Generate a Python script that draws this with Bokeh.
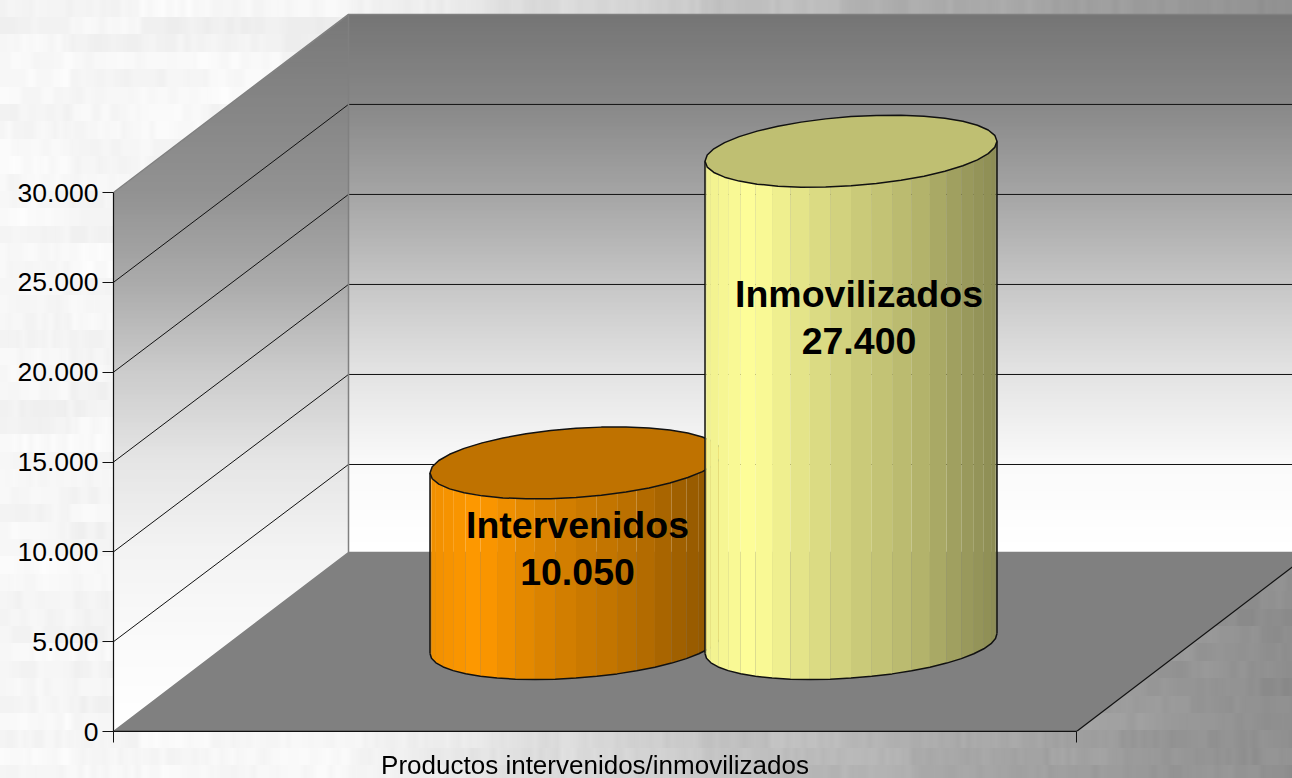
import base64, struct, zlib
import numpy as np
from bokeh.embed import file_html
from bokeh.models import FixedTicker, Range1d
from bokeh.plotting import figure
from bokeh.resources import INLINE
from bokeh.core.properties import value

# ---- data -------------------------------------------------------------
categories = ["Intervenidos", "Inmovilizados"]
values = [10050, 27400]
value_labels = ["10.050", "27.400"]
y_ticks = [0, 5000, 10000, 15000, 20000, 25000, 30000]
y_tick_labels = ["0", "5.000", "10.000", "15.000", "20.000", "25.000", "30.000"]
x_title = "Productos intervenidos/inmovilizados"
side_colors = [(255, 153, 0), (255, 255, 153)]

# ---- page geometry ----------------------------------------------------
W, H = 1292, 778
BOTTOM_NEEDED = 51                         # what the x axis asks for
LEFT, ZERO_PX, TOP_PX = 113, 731, 192
UNIT = 30000 / (ZERO_PX - TOP_PX)          # value units per pixel
BACK_X, FLOOR_BACK_PX, RIGHT_X = 348, 552, 1076


def Y(px):
    return (ZERO_PX - px) * UNIT


def hexgrey(v):
    v = int(round(min(255, max(0, v))))
    return f"#{v:02x}{v:02x}{v:02x}"


# ---- page texture (decoration only, painted as the page background) -----
def hash01(a, b):
    s = np.sin(a * 12.9898 + b * 78.233) * 43758.5453
    return s - np.floor(s)


def page_png():
    xs = np.arange(W)
    base = np.interp(xs, [0, 350, 500, 700, 950, 1292], [246, 244, 226, 197, 170, 140])
    img = np.zeros((H, W), dtype=float)
    band_h = 17.4
    for j in range(int(H / band_h) + 2):
        y0, y1 = int(j * band_h), int((j + 1) * band_h)
        cell = 5 + 6 * hash01(j, 3.0)
        col = np.floor(xs / cell)
        streak = hash01(col, j + 1.0) - 0.5
        coarse = hash01(np.floor(xs / 70.0), j + 7.0) - 0.5
        band = (hash01(j, 11.0) - 0.5) * 5
        row = base + streak * 6 + coarse * 8 + band
        row = np.convolve(np.pad(row, 2, mode="edge"), np.ones(5) / 5, mode="valid")
        img[y0:min(y1, H)] = row
    data = np.clip(img, 0, 255).astype(np.uint8)
    raw = b"".join(b"\x00" + data[i].tobytes() for i in range(H))

    def chunk(tag, body):
        return struct.pack(">I", len(body)) + tag + body + struct.pack(">I", zlib.crc32(tag + body))

    png = (b"\x89PNG\r\n\x1a\n" + chunk(b"IHDR", struct.pack(">IIBBBBB", W, H, 8, 0, 0, 0, 0))
           + chunk(b"IDAT", zlib.compress(raw, 9)) + chunk(b"IEND", b""))
    return base64.b64encode(png).decode()


p = figure(width=W, height=ZERO_PX + BOTTOM_NEEDED, output_backend="svg", toolbar_location=None,
           x_range=Range1d(LEFT, W), y_range=Range1d(0, Y(0)),
           min_border_left=LEFT, min_border_right=0, min_border_top=0,
           min_border_bottom=BOTTOM_NEEDED)
p.styles = {"position": "fixed", "left": "0px", "top": "0px",
            "background-image": f"url(data:image/png;base64,{page_png()})",
            "background-repeat": "no-repeat"}
p.border_fill_alpha = 0
p.background_fill_alpha = 0
p.outline_line_color = None
p.grid.visible = False

# ---- walls --------------------------------------------------------------
WALL_TOP_PX = 14
LEFT_WALL_PX = [14, 192, 280, 370, 460, 550, 640, 731]
LEFT_WALL_GREY = [120, 146, 170, 203, 229, 243, 250, 255]
BACK_WALL_PX = [14, 104, 194, 284, 374, 464, 552]
BACK_WALL_GREY = [117, 136, 165, 198, 228, 250, 255]


def top_edge_x(px):
    return LEFT + (TOP_PX - px) / (TOP_PX - WALL_TOP_PX) * (BACK_X - LEFT)


def bottom_edge_x(px):
    return LEFT + (ZERO_PX - px) / (ZERO_PX - FLOOR_BACK_PX) * (BACK_X - LEFT)


def wall_bounds(px):
    return max(LEFT, top_edge_x(px)), min(BACK_X, bottom_edge_x(px))


breaks = sorted(set(list(range(WALL_TOP_PX, ZERO_PX, 4)) + [TOP_PX, FLOOR_BACK_PX, ZERO_PX]))
lx, ly, lc = [], [], []
for a, b in zip(breaks[:-1], breaks[1:]):
    la, ra = wall_bounds(a)
    lb, rb = wall_bounds(b)
    lx.append([la, ra, rb, lb])
    ly.append([Y(a), Y(a), Y(b + 0.5), Y(b + 0.5)])
    lc.append(hexgrey(np.interp((a + b) / 2, LEFT_WALL_PX, LEFT_WALL_GREY)))
p.patches(lx, ly, fill_color=lc, line_color=None)

back = [b for b in breaks if b <= FLOOR_BACK_PX]
p.quad(left=BACK_X, right=W, top=[Y(a) for a in back[:-1]], bottom=[Y(b + 0.5) for b in back[1:]],
       fill_color=[hexgrey(np.interp((a + b) / 2, BACK_WALL_PX, BACK_WALL_GREY))
                   for a, b in zip(back[:-1], back[1:])],
       line_color=None)

# floor
p.patch([LEFT, BACK_X, W, W, RIGHT_X],
        [Y(ZERO_PX), Y(FLOOR_BACK_PX), Y(FLOOR_BACK_PX),
         Y(ZERO_PX - (W - RIGHT_X) * (ZERO_PX - FLOOR_BACK_PX) / (BACK_X - LEFT)), Y(ZERO_PX)],
        fill_color="#808080", line_color=None)

# gridlines through the value scale
DEPTH = 177 * UNIT
BACK_RATIO = 1.002
for v in y_ticks[1:-1]:
    p.line([LEFT, BACK_X, W], [v, DEPTH + v * BACK_RATIO, DEPTH + v * BACK_RATIO],
           line_color="#111111", line_width=1)
# wall edges
top_v = y_ticks[-1]
p.line([LEFT, BACK_X, W], [top_v, DEPTH + top_v * BACK_RATIO, DEPTH + top_v * BACK_RATIO],
       line_color="#808080", line_width=1.5)
p.line([BACK_X, BACK_X], [Y(FLOOR_BACK_PX), DEPTH + top_v * BACK_RATIO], line_color="#808080", line_width=1.5)
p.line([LEFT, BACK_X, W], [0, Y(FLOOR_BACK_PX), Y(FLOOR_BACK_PX)], line_color="#808080", line_width=1.5)
p.line([RIGHT_X, W], [0, Y(ZERO_PX - (W - RIGHT_X) * (ZERO_PX - FLOOR_BACK_PX) / (BACK_X - LEFT))],
       line_color="#111111", line_width=1.2)
p.line([LEFT, RIGHT_X], [0, 0], line_color="#111111", line_width=1.5)

# ---- cylinders ----------------------------------------------------------
LEFT_EDGE = [429.5, 704.5]
BASE_V = Y(653)
HALF_W, RIM_H, RIM_TILT = 146, 34.6, 10
N = 22
STOPS_T = [0.0, 0.10, 0.17, 0.35, 0.5, 0.6, 0.75, 0.85, 1.0]
STOPS_S = [0.94, 0.98, 1.0, 0.88, 0.81, 0.77, 0.70, 0.63, 0.55]


def rim_dv(theta):
    """value offset of a rim point from the rim's left extreme"""
    dy = -RIM_TILT * np.cos(theta) + RIM_H * np.sin(theta) - RIM_TILT
    return -dy * UNIT


for left, val, rgb in zip(LEFT_EDGE, values, side_colors):
    cx = left + HALF_W
    th = np.linspace(np.pi, 0, N + 1)
    xs = cx + HALF_W * np.cos(th)
    low = BASE_V + rim_dv(th)
    xx, yy, cc = [], [], []
    for i in range(N):
        xx.append([xs[i], xs[i + 1], xs[i + 1], xs[i]])
        yy.append([low[i], low[i + 1], low[i + 1] + val, low[i] + val])
        s = np.interp((xs[i] + xs[i + 1]) / 2, [left + HALF_W * 2 * t for t in STOPS_T], STOPS_S)
        cc.append("#%02x%02x%02x" % tuple(int(c * s) for c in rgb))
    p.patches(xx, yy, fill_color=cc, line_color=None)
    # outline of the body
    p.line(list(xs), list(low), line_color="#111111", line_width=1.5)
    p.line([xs[0], xs[0]], [low[0], low[0] + val], line_color="#111111", line_width=1.5)
    p.line([xs[-1], xs[-1]], [low[-1], low[-1] + val], line_color="#111111", line_width=1.5)
    # top cap
    ring = np.linspace(np.pi, 3 * np.pi, 37)
    cap_x = cx + HALF_W * np.cos(ring)
    cap_y = BASE_V + val + rim_dv(ring)
    cap = "#%02x%02x%02x" % tuple(int(c * 0.75) for c in rgb)
    p.patch(list(cap_x), list(cap_y), fill_color=cap, line_color="#111111", line_width=1.5)

# ---- data labels --------------------------------------------------------
label_x = [577, 858.5]
label_tops = [Y(524.5), Y(293.5)]
for lx_, ly_, name, vt in zip(label_x, label_tops, categories, value_labels):
    for txt, off in ((name, 0), (vt, 47)):
        p.text([lx_], [ly_ - off * UNIT], text=[txt], text_font=value("Liberation Sans"),
               text_font_size="37.5px", text_font_style="bold", text_color="#000000",
               text_align="center", text_baseline="middle")

# ---- axes ---------------------------------------------------------------
ya = p.yaxis[0]
ya.ticker = FixedTicker(ticks=y_ticks)
ya.major_label_overrides = dict(zip(y_ticks, y_tick_labels))
ya.bounds = (0, 30000)
ya.major_tick_out, ya.major_tick_in = 11, 0
ya.minor_tick_line_color = None
ya.axis_line_color = "#111111"
ya.axis_line_width = 1.2
ya.major_tick_line_color = "#111111"
ya.major_label_standoff = 4
ya.major_label_text_font = "Liberation Sans"
ya.major_label_text_font_size = "26.5px"
ya.major_label_text_color = "#000000"

xa = p.xaxis[0]
mid = (LEFT + RIGHT_X) / 2
xa.ticker = FixedTicker(ticks=[mid], minor_ticks=[LEFT, RIGHT_X])
xa.major_label_overrides = {mid: x_title}
xa.bounds = (LEFT, RIGHT_X)
xa.major_tick_line_color = None
xa.major_tick_out, xa.major_tick_in = 0, 0
xa.minor_tick_out, xa.minor_tick_in = 11, 0
xa.minor_tick_line_color = "#111111"
xa.axis_line_color = "#111111"
xa.major_label_standoff = 7
xa.major_label_text_font = "Liberation Sans"
xa.major_label_text_font_size = "26px"
xa.major_label_text_color = "#000000"

open("out.html", "w").write(file_html(p, INLINE))
